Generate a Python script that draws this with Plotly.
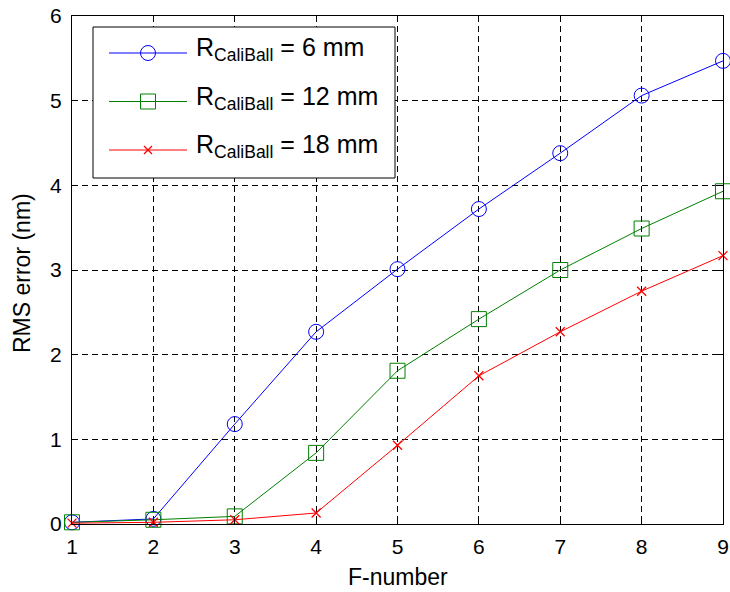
import plotly.graph_objects as go

f_number = [1, 2, 3, 4, 5, 6, 7, 8, 9]
rms_6mm = [0.02, 0.06, 1.18, 2.27, 3.01, 3.72, 4.38, 5.06, 5.47]
rms_12mm = [0.02, 0.05, 0.09, 0.84, 1.81, 2.42, 3.00, 3.49, 3.93]
rms_18mm = [0.01, 0.02, 0.05, 0.13, 0.93, 1.75, 2.27, 2.75, 3.17]
series_names = ["6 mm", "12 mm", "18 mm"]
colors = ["#0000FF", "#008000", "#FF0000"]

W, H = 730, 592
L, R, T, B = 72, 7, 16, 68
PW, PH = W - L - R, H - T - B

def px(x):
    return (x - L) / PW

def py(y):
    return (H - B - y) / PH

fig = go.Figure()
specs = [
    (rms_6mm, dict(symbol="circle-open", size=15, color=colors[0], line=dict(width=1, color=colors[0]))),
    (rms_12mm, dict(symbol="square-open", size=15, color=colors[1], line=dict(width=1, color=colors[1]))),
    (rms_18mm, dict(symbol="x-thin-open", size=9, color=colors[2], line=dict(width=1.3, color=colors[2]))),
]
for (vals, mk), name, c in zip(specs, series_names, colors):
    fig.add_trace(go.Scatter(x=f_number, y=vals, mode="lines+markers",
                             line=dict(color=c, width=1), marker=mk,
                             name=name, cliponaxis=False, showlegend=False))

axis_common = dict(showline=True, linecolor="black", linewidth=1, mirror="ticks",
                   ticks="inside", ticklen=5, tickcolor="black", automargin=False,
                   showgrid=True, gridcolor="black", gridwidth=1, griddash="6px,4px",
                   zeroline=False, tickfont=dict(size=21, color="black"))

fig.update_xaxes(range=[1, 9], tickvals=f_number, ticktext=[str(v) for v in f_number],
                 ticklabelstandoff=4, **axis_common)
fig.update_yaxes(range=[0, 6], tickvals=[0, 1, 2, 3, 4, 5, 6], ticktext=["0", "1", "2", "3", "4", "5", "6"],
                 ticklabelstandoff=5, **axis_common)

fig.add_annotation(xref="paper", yref="paper", x=px(398), y=py(577), xanchor="center", yanchor="middle",
                   showarrow=False, text="F-number", font=dict(size=23, color="black"))
fig.add_annotation(xref="paper", yref="paper", x=px(22), y=py(273), xanchor="center", yanchor="middle",
                   showarrow=False, text="RMS error (nm)", textangle=-90, font=dict(size=23, color="black"))

# custom legend (MATLAB style)
shapes = [dict(type="rect", xref="paper", yref="paper", x0=px(93), x1=px(395), y0=py(178), y1=py(27),
               fillcolor="white", line=dict(color="black", width=1), layer="above")]
ys = [53, 101.5, 150]
for i, (yy, c) in enumerate(zip(ys, colors)):
    shapes.append(dict(type="line", xref="paper", yref="paper", x0=px(109), x1=px(187), y0=py(yy), y1=py(yy),
                       line=dict(color=c, width=1), layer="above"))
    if i == 0:
        shapes.append(dict(type="circle", xref="paper", yref="paper", x0=px(140.5), x1=px(155.5),
                           y0=py(yy + 7.5), y1=py(yy - 7.5), line=dict(color=c, width=1), layer="above"))
    elif i == 1:
        shapes.append(dict(type="rect", xref="paper", yref="paper", x0=px(140.5), x1=px(155.5),
                           y0=py(yy + 7.5), y1=py(yy - 7.5), line=dict(color=c, width=1), layer="above"))
    else:
        for a, b in [(-4, 4), (4, -4)]:
            shapes.append(dict(type="line", xref="paper", yref="paper", x0=px(148 - 4), x1=px(148 + 4),
                               y0=py(yy + a), y1=py(yy + b), line=dict(color=c, width=1.3), layer="above"))
    fig.add_annotation(xref="paper", yref="paper", x=px(194), y=py(yy - 4), xanchor="left", yanchor="middle",
                       showarrow=False, align="left",
                       text="R<sub>CaliBall</sub> = " + series_names[i],
                       font=dict(size=25, color="black", family="Liberation Sans, Arial"))

fig.update_layout(width=W, height=H, margin=dict(l=L, r=R, t=T, b=B, autoexpand=False),
                  paper_bgcolor="white", plot_bgcolor="white",
                  font=dict(family="Liberation Sans, Arial", color="black"),
                  shapes=shapes, showlegend=False)

fig.write_html("out.html")
